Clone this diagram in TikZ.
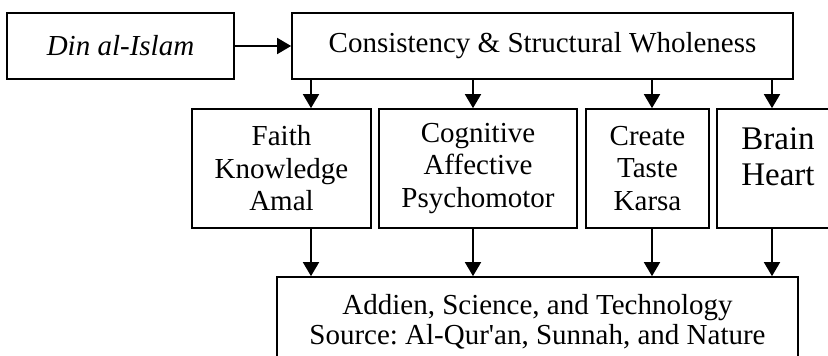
\documentclass[tikz,border=0pt]{standalone}
\usepackage{fontspec}
\setmainfont{Liberation Serif}
\usetikzlibrary{arrows.meta}
\usetikzlibrary{positioning}
\frenchspacing

\begin{document}
\begin{tikzpicture}[x=1pt,y=-1pt,>={Triangle[width=16pt,length=14pt]},line width=1.7pt,
    main box/.style={draw,rectangle,inner sep=0pt,align=center,font=\fontsize{29}{32.5}\selectfont},
    big text/.style={align=center,inner sep=0pt,font=\fontsize{33}{36}\selectfont}]
   \clip (0,0) rectangle (828,356);
   % top row
   \node[main box,minimum width=227pt,minimum height=66pt,font=\fontsize{29}{32}\selectfont\itshape] (din) at (120.5,46) {Din al-Islam};
   \node[main box,minimum width=501pt,minimum height=66pt] (cons) at (542.5,46) {Consistency \& Structural Wholeness};
   % middle row
   \node[main box,minimum width=179pt,minimum height=119pt] (faith) at (281.5,168.5) {Faith\\Knowledge\\Amal};
   \node[main box,minimum width=198pt,minimum height=119pt] (cog) at (478,168.5) {Cognitive\\Affective\\Psychomotor};
   \node[main box,minimum width=123pt,minimum height=119pt] (create) at (647.5,168.5) {Create\\Taste\\Karsa};
   \node[main box,minimum width=122pt,minimum height=119pt] (brain) at (778,168.5) {};
   \node[big text] (brainlbl) at ([yshift=11.5pt]brain.center) {Brain\\Heart};
   % bottom
   \node[main box,minimum width=521pt,minimum height=90pt,font=\fontsize{29}{30}\selectfont] (base) at (537.5,322)
      {Addien, Science, and Technology\\Source: Al-Qur\textquotesingle an, Sunnah, and Nature};
   % arrow columns
   \coordinate (p1) at (311,0);
   \coordinate (p2) at (473,0);
   \coordinate (p3) at (652,0);
   \coordinate (p4) at (772,0);
   \draw[->] (din) -- (cons);
   \foreach \b/\p in {faith/p1,cog/p2,create/p3,brain/p4}{
      \draw[->] (cons.south -| \p) -- (\b.north -| \p);
      \draw[->] (\b.south -| \p) -- (base.north -| \p);
   }
\end{tikzpicture}
\end{document}
